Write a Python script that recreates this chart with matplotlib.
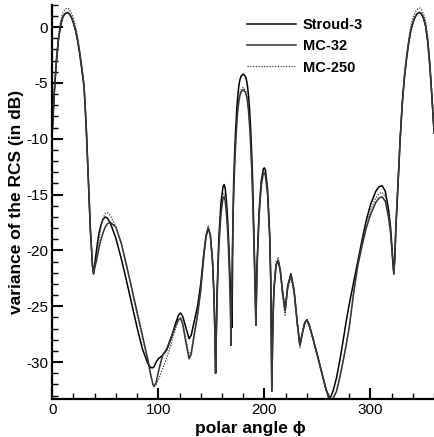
import matplotlib
matplotlib.use('Agg')
import matplotlib.pyplot as plt
from matplotlib.ticker import MultipleLocator

plt.rcParams['font.family'] = ['Liberation Sans', 'DejaVu Sans']
plt.rcParams['axes.unicode_minus'] = False

# polar angle (deg) and variance of the RCS (dB)
phi = [0, 2, 4, 6, 8, 10, 12, 14, 15, 16, 18, 20, 22, 24, 26, 28, 30, 32, 34, 36,
       38, 39, 40, 42, 44, 46, 48, 50, 52, 55, 60, 65, 70, 75, 80, 85, 90, 93, 95, 96,
       98, 100, 104, 108, 112, 116, 119, 121, 123, 126, 129, 131, 134, 137, 140, 143, 145, 147, 149, 151,
       152.5, 153.5, 154, 154.5, 155.5, 157, 159, 161, 162, 163, 164, 165, 166, 167, 168, 168.5, 169.5, 170.3, 171, 172,
       173, 174, 175, 176, 177, 178, 180, 182, 183, 184, 185, 186, 187, 188, 189, 190, 191, 192, 193, 195,
       197, 199, 200, 201, 203, 205, 206, 207, 208, 209, 211, 213, 215, 217, 219.5, 222, 225, 228, 231, 233.5,
       236, 238, 240, 242, 245, 250, 255, 258, 261, 263, 265, 268, 271, 274, 277, 280, 284, 288, 292, 296,
       300, 305, 308, 311, 314, 317, 319, 321, 322, 323, 324, 326, 328, 330, 332, 334, 336, 338, 340, 342,
       344, 346, 347, 348, 350, 352, 354, 356, 358, 360]

stroud3 = [-9.5, -5.8, -3.0, -1.0, 0.2, 0.9, 1.2, 1.3, 1.3, 1.2, 0.9, 0.4, -0.3, -1.2, -2.4, -3.8, -5.3, -8.8, -13.4, -18.2,
           -21.4, -22.1, -21.3, -19.8, -18.5, -17.7, -17.2, -17.0, -17.1, -17.6, -18.9, -20.7, -22.7, -24.8, -26.9, -28.8, -30.1, -30.5, -30.5, -30.4,
           -30.0, -29.7, -29.4, -28.9, -27.9, -26.6, -25.8, -25.6, -25.9, -26.9, -27.9, -27.6, -26.3, -25.0, -23.0, -20.2, -18.7, -18.0, -18.6, -20.8,
           -24.0, -28.0, -31.0, -28.0, -23.5, -19.0, -15.8, -14.3, -14.1, -14.4, -15.3, -16.6, -18.4, -20.8, -23.6, -25.0, -26.9, -18.0, -14.0, -11.2,
           -9.0, -7.3, -6.1, -5.2, -4.7, -4.4, -4.2, -4.4, -4.7, -5.2, -6.1, -7.3, -9.0, -11.2, -14.0, -18.0, -22.0, -26.7, -21.5, -16.5,
           -13.8, -12.7, -12.6, -12.8, -14.5, -18.5, -22.5, -32.6, -26.5, -23.5, -21.3, -20.9, -21.8, -23.6, -25.4, -23.2, -22.1, -23.6, -26.5, -28.5,
           -27.3, -26.5, -26.2, -26.6, -27.6, -29.4, -31.3, -32.4, -33.3, -33.0, -32.5, -31.4, -29.9, -28.2, -26.4, -24.8, -22.9, -21.0, -19.1, -17.3,
           -15.9, -14.7, -14.3, -14.2, -14.7, -16.3, -18.0, -20.8, -22.1, -20.5, -17.8, -14.0, -10.0, -6.8, -4.5, -2.8, -1.4, -0.3, 0.4, 0.9,
           1.2, 1.3, 1.3, 1.2, 0.8, 0.1, -1.3, -3.5, -6.4, -9.5]

mc32 = [-9.5, -5.8, -3.0, -1.0, 0.2, 0.9, 1.2, 1.3, 1.3, 1.2, 0.9, 0.4, -0.3, -1.2, -2.4, -3.8, -5.3, -8.8, -13.4, -18.2,
        -21.4, -22.1, -21.6, -20.8, -19.8, -19.0, -18.4, -17.9, -17.6, -17.5, -17.9, -19.3, -21.3, -23.4, -25.5, -27.6, -29.7, -31.2, -32.0, -32.2,
        -31.8, -30.9, -29.4, -28.8, -27.8, -26.8, -26.2, -26.1, -26.6, -28.2, -29.7, -29.3, -27.5, -25.8, -23.6, -20.4, -18.8, -18.0, -18.6, -20.8,
        -24.0, -28.0, -31.0, -28.5, -24.0, -19.8, -16.8, -15.3, -15.2, -15.5, -16.4, -17.7, -19.5, -21.9, -25.5, -28.5, -22.0, -17.5, -15.0, -12.4,
        -10.3, -8.6, -7.4, -6.6, -6.1, -5.8, -5.6, -5.8, -6.1, -6.6, -7.5, -8.7, -10.4, -12.6, -15.4, -19.0, -22.5, -26.7, -21.8, -16.9,
        -14.2, -13.1, -13.1, -13.3, -15.0, -18.9, -22.8, -32.6, -26.5, -23.5, -21.3, -20.9, -21.8, -23.6, -25.4, -23.2, -22.1, -23.6, -26.5, -28.5,
        -27.3, -26.5, -26.2, -26.6, -27.6, -29.4, -31.3, -32.4, -33.1, -33.3, -33.2, -32.6, -31.4, -30.0, -28.5, -26.9, -23.9, -21.4, -19.6, -18.0,
        -16.8, -15.7, -15.3, -15.2, -15.6, -17.0, -18.5, -21.0, -22.1, -20.5, -17.8, -14.0, -10.0, -6.8, -4.5, -2.8, -1.4, -0.3, 0.4, 0.9,
        1.2, 1.3, 1.3, 1.2, 0.8, 0.1, -1.3, -3.5, -6.4, -9.5]

mc250 = [-9.3, -5.5, -2.7, -0.7, 0.6, 1.3, 1.6, 1.7, 1.7, 1.6, 1.3, 0.8, 0.1, -0.9, -2.1, -3.5, -5.1, -8.6, -13.2, -18.0,
         -21.4, -22.0, -21.4, -20.5, -19.1, -17.9, -17.1, -16.7, -16.6, -16.9, -17.9, -19.4, -21.4, -23.5, -25.7, -27.8, -29.9, -31.3, -32.0, -32.2,
         -32.0, -31.6, -30.6, -29.6, -28.4, -27.1, -26.3, -26.0, -26.4, -27.9, -29.4, -29.0, -27.3, -25.6, -23.4, -20.2, -18.6, -17.8, -18.5, -20.7,
         -23.9, -28.0, -31.0, -28.3, -23.8, -19.5, -16.5, -15.0, -14.9, -15.2, -16.1, -17.4, -19.2, -21.6, -25.2, -28.3, -22.3, -17.6, -14.9, -12.2,
         -10.1, -8.4, -7.2, -6.4, -5.9, -5.6, -5.4, -5.6, -5.9, -6.4, -7.3, -8.5, -10.2, -12.4, -15.2, -18.9, -22.4, -26.7, -21.6, -16.7,
         -14.0, -12.9, -12.9, -13.1, -14.8, -18.7, -22.6, -32.6, -26.3, -23.3, -21.0, -20.6, -21.8, -23.9, -25.8, -23.5, -22.4, -23.8, -26.7, -28.7,
         -27.4, -26.6, -26.3, -26.7, -27.7, -29.5, -31.4, -32.5, -33.2, -33.3, -33.2, -32.6, -31.4, -30.0, -28.5, -26.8, -23.8, -21.2, -19.3, -17.6,
         -16.4, -15.3, -14.9, -14.8, -15.2, -16.7, -18.3, -20.9, -22.1, -20.4, -17.7, -13.8, -9.8, -6.6, -4.2, -2.5, -1.1, 0.1, 0.8, 1.3,
         1.6, 1.7, 1.7, 1.6, 1.2, 0.5, -0.9, -3.2, -6.1, -9.3]

fig = plt.figure(figsize=(4.35, 4.37), dpi=100)
ax = fig.add_axes([0.12, 0.087, 0.878, 0.902])

ax.plot(phi, stroud3, color='black', lw=1.1, label='Stroud-3')
ax.plot(phi, mc32, color='#303030', lw=1.1, label='MC-32')
ax.plot(phi, mc250, color='#404040', lw=0.9, ls=(0, (1, 1.2)), label='MC-250')

ax.set_xlim(0, 360)
ax.set_ylim(-33.3, 2.0)
ax.xaxis.set_major_locator(MultipleLocator(100))
ax.xaxis.set_minor_locator(MultipleLocator(20))
ax.yaxis.set_major_locator(MultipleLocator(5))
ax.yaxis.set_minor_locator(MultipleLocator(1))
ax.tick_params(which='both', direction='in', top=False, right=False, labelsize=11)
ax.tick_params(which='major', length=8, width=1.5, pad=3)
ax.tick_params(which='minor', length=4.5, width=1.0)

ax.spines['top'].set_visible(False)
ax.spines['right'].set_visible(False)
ax.spines['left'].set_linewidth(1.6)
ax.spines['bottom'].set_linewidth(1.6)

ax.set_xlabel('polar angle ϕ', fontsize=12.5, fontweight='bold')
ax.xaxis.set_label_coords(0.52, -0.056)
ax.set_ylabel('variance of the RCS (in dB)', fontsize=12.5, fontweight='bold')
ax.yaxis.set_label_coords(-0.075, 0.5)

ax.legend(loc='upper left', bbox_to_anchor=(0.475, 1.0), frameon=False,
          handlelength=3.4, handletextpad=0.45, labelspacing=0.5,
          prop={'weight': 'bold', 'size': 10.5})

plt.savefig('out.png', dpi=100)
